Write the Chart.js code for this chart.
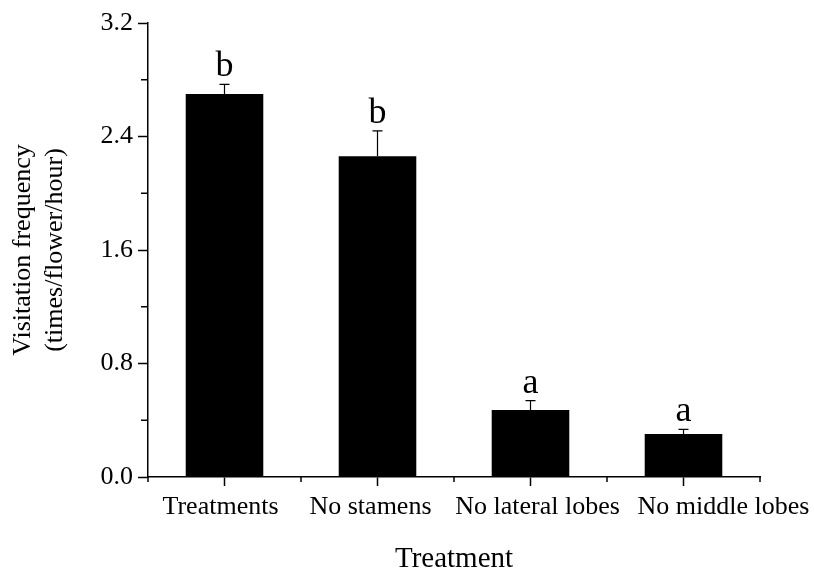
<!DOCTYPE html>
<html lang="en">
  <head>
    <meta charset="UTF-8" />
    <title>Visitation frequency by treatment</title>
    <script src="https://cdnjs.cloudflare.com/ajax/libs/Chart.js/4.4.1/chart.umd.min.js"></script>
    <style>
      html,
      body {
        margin: 0;
        padding: 0;
        background: #fff;
      }
      .chart-container {
        position: relative;
        width: 814px;
        height: 571px;
      }
    </style>
  </head>
  <body>
    <div class="chart-container">
      <canvas id="chart"></canvas>
    </div>

    <script>
      // Datos
      const categories = ["Treatments", "No stamens", "No lateral lobes", "No middle lobes"];
      const means = [2.7, 2.26, 0.472, 0.303];
      const errors = [0.068, 0.179, 0.066, 0.033];
      const letters = ["b", "b", "a", "a"];
      const yMajorTicks = [0, 0.8, 1.6, 2.4, 3.2];
      const yMinorTicks = [0.4, 1.2, 2.0, 2.8];

      const serif = "'Liberation Serif', 'Times New Roman', serif";
      // the original nudges some category labels sideways so they don't collide
      const labelNudge = [-4, -7, 7, 40];

      // error bars, significance letters and the minor ticks
      const extrasPlugin = {
        id: "extras",
        beforeDraw(chart) {
          const items = chart.scales.x.getLabelItems();
          items.forEach((it, i) => {
            if (!it._nudged) {
              it.options.translation[0] += labelNudge[i] || 0;
              it._nudged = true;
            }
          });
        },
        afterDatasetsDraw(chart) {
          const ctx = chart.ctx;
          const x = chart.scales.x;
          const y = chart.scales.y;
          const meta = chart.getDatasetMeta(0);
          ctx.save();
          ctx.strokeStyle = "#000";
          ctx.fillStyle = "#000";
          ctx.lineWidth = 1.2;

          meta.data.forEach((bar, i) => {
            const base = y.getPixelForValue(means[i]);
            const top = y.getPixelForValue(means[i] + errors[i]);
            ctx.beginPath();
            ctx.moveTo(bar.x, base);
            ctx.lineTo(bar.x, top);
            ctx.moveTo(bar.x - 5, top);
            ctx.lineTo(bar.x + 5, top);
            ctx.stroke();

            ctx.font = "36px " + serif;
            ctx.textAlign = "center";
            ctx.textBaseline = "alphabetic";
            ctx.fillText(letters[i], bar.x, top - 8);
          });

          ctx.lineWidth = 1.5;
          yMinorTicks.forEach((v) => {
            const py = y.getPixelForValue(v);
            ctx.beginPath();
            ctx.moveTo(y.right - 7, py);
            ctx.lineTo(y.right, py);
            ctx.stroke();
          });

          for (let i = 0; i <= categories.length; i++) {
            const px = x.getPixelForValue(i - 0.5);
            ctx.beginPath();
            ctx.moveTo(px, x.top);
            ctx.lineTo(px, x.top + 5);
            ctx.stroke();
          }
          ctx.restore();
        },
      };

      const ctx = document.getElementById("chart").getContext("2d");

      new Chart(ctx, {
        type: "bar",
        data: {
          labels: categories,
          datasets: [
            {
              data: means,
              backgroundColor: "#000",
              borderWidth: 0,
              barPercentage: 0.507,
              categoryPercentage: 1,
            },
          ],
        },
        options: {
          responsive: true,
          maintainAspectRatio: false,
          animation: false,
          layout: {
            padding: { top: 23, right: 54, left: 0, bottom: 0 },
          },
          plugins: {
            legend: { display: false },
            tooltip: { enabled: false },
          },
          scales: {
            x: {
              offset: true,
              grid: {
                offset: false,
                drawOnChartArea: false,
                tickLength: 9,
                tickColor: "#000",
                tickWidth: 1.5,
              },
              border: { color: "#000", width: 1.5 },
              ticks: {
                color: "#000",
                padding: 6,
                maxRotation: 0,
                autoSkip: false,
                font: { family: serif, size: 26 },
              },
              title: {
                display: true,
                text: "Treatment",
                color: "#000",
                font: { family: serif, size: 29, lineHeight: 1 },
                padding: { top: 0, bottom: -3 },
              },
              afterFit: (s) => {
                s.height = 94;
              },
            },
            y: {
              min: 0,
              max: 3.2,
              afterBuildTicks: (s) => {
                s.ticks = yMajorTicks.map((v) => ({ value: v }));
              },
              grid: {
                drawOnChartArea: false,
                tickLength: 10,
                tickColor: "#000",
                tickWidth: 1.5,
              },
              border: { color: "#000", width: 1.5 },
              ticks: {
                color: "#000",
                padding: 5,
                font: { family: serif, size: 26 },
                callback: (v) => Number(v).toFixed(1),
              },
              title: {
                display: true,
                text: ["Visitation frequency", "(times/flower/hour)"],
                color: "#000",
                font: { family: serif, size: 26, lineHeight: 1.2 },
                padding: { top: 8, bottom: 0 },
              },
              afterFit: (s) => {
                s.width = 148;
              },
            },
          },
        },
        plugins: [extrasPlugin],
      });
    </script>
  </body>
</html>
